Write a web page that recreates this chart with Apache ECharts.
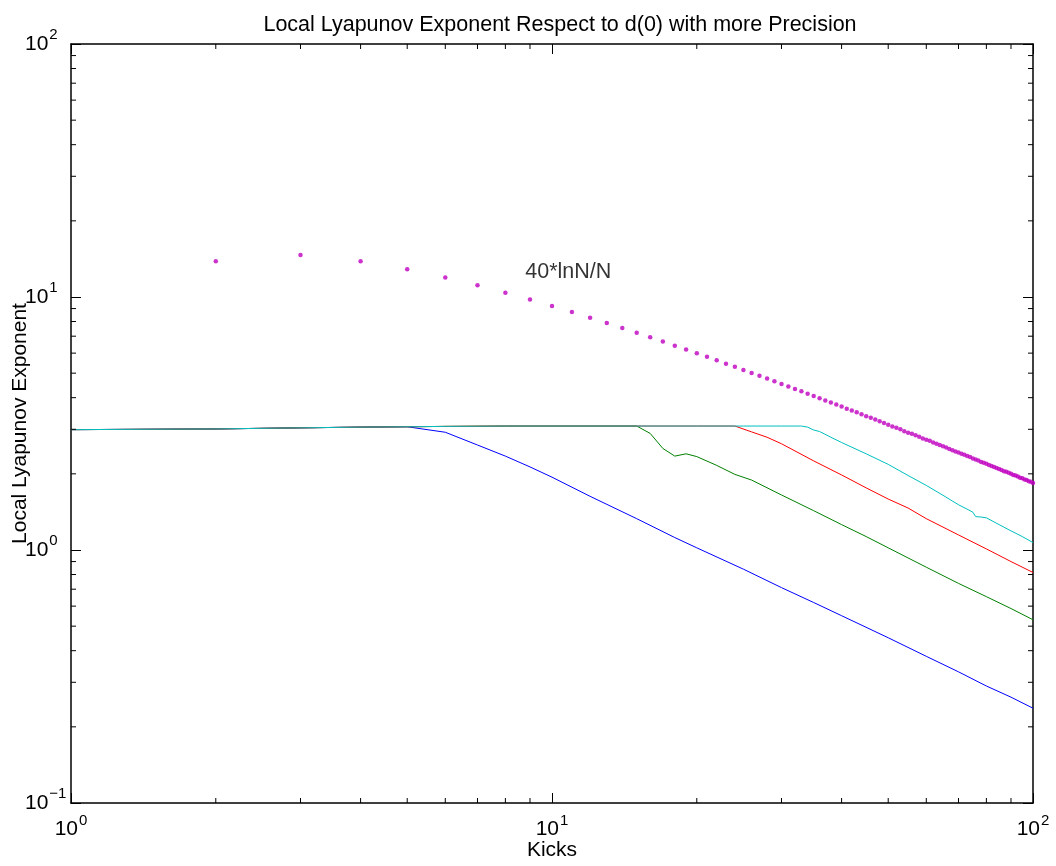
<!DOCTYPE html>
<html>
<head>
<meta charset="utf-8">
<script src="https://cdn.jsdelivr.net/npm/echarts@6/dist/echarts.min.js"></script>
<style>
  html, body { margin: 0; padding: 0; background: #fff; }
  #chart { width: 1056px; height: 866px; }
</style>
</head>
<body>
<div id="chart"></div>
<script>
// ---- text ----
const titleText = 'Local Lyapunov Exponent Respect to d(0) with more Precision';
const xName = 'Kicks';
const yName = 'Local Lyapunov Exponent';
const curveLabel = '40*lnN/N';

// ---- tick labels (decades, written as 10^power) ----
const xTickValues = [1, 10, 100];
const xTickPowers = ['0', '1', '2'];
const yTickValues = [0.1, 1, 10, 100];
const yTickPowers = ['\u22121', '0', '1', '2'];
const xMinorTicks = [2, 3, 4, 5, 6, 7, 8, 9, 20, 30, 40, 50, 60, 70, 80, 90];
const yMinorTicks = [0.2, 0.3, 0.4, 0.5, 0.6, 0.7, 0.8, 0.9, 2, 3, 4, 5, 6, 7, 8, 9, 20, 30, 40, 50, 60, 70, 80, 90];

// ---- local Lyapunov exponent curves ----
const blueN = [1, 2, 3, 4, 5, 6, 7, 8, 9, 10, 12, 15, 18, 20, 25, 30, 35, 40, 50, 60, 70, 80, 90, 100];
const blueV = [2.99, 3.01, 3.04, 3.06, 3.07, 2.92, 2.60, 2.35, 2.13, 1.94, 1.63, 1.33, 1.12, 1.02, 0.84, 0.71, 0.62, 0.55, 0.45, 0.38, 0.33, 0.29, 0.262, 0.237];

const greenN = [1, 2, 3, 4, 5, 6, 8, 10, 15, 16, 17, 18, 19, 20, 22, 24, 26, 30, 35, 40, 45, 50, 60, 70, 80, 90, 100];
const greenV = [2.99, 3.01, 3.04, 3.06, 3.07, 3.08, 3.09, 3.09, 3.09, 2.89, 2.52, 2.35, 2.40, 2.34, 2.16, 1.99, 1.89, 1.65, 1.43, 1.26, 1.13, 1.02, 0.855, 0.738, 0.654, 0.587, 0.53];

const redN = [1, 2, 3, 4, 5, 6, 8, 10, 15, 20, 24, 26, 28, 30, 35, 40, 45, 50, 55, 60, 70, 80, 90, 100];
const redV = [2.99, 3.01, 3.04, 3.06, 3.07, 3.08, 3.09, 3.09, 3.09, 3.09, 3.09, 2.93, 2.79, 2.63, 2.25, 1.98, 1.76, 1.59, 1.465, 1.33, 1.147, 1.01, 0.90, 0.815];

const cyanN = [1, 2, 3, 4, 5, 6, 8, 10, 15, 20, 25, 30, 33, 34, 35, 36, 38, 40, 45, 50, 55, 60, 65, 70, 74, 75, 76, 78, 80, 85, 90, 95, 100];
const cyanV = [2.99, 3.01, 3.04, 3.06, 3.07, 3.08, 3.09, 3.09, 3.09, 3.09, 3.09, 3.09, 3.09, 3.06, 2.98, 2.94, 2.79, 2.66, 2.40, 2.18, 1.97, 1.80, 1.645, 1.51, 1.43, 1.41, 1.355, 1.35, 1.34, 1.26, 1.19, 1.13, 1.07];

// ---- reference curve 40*lnN/N, N = 2..100 ----
const refN = [
  2, 3, 4, 5, 6, 7, 8, 9, 10,
  11, 12, 13, 14, 15, 16, 17, 18, 19, 20,
  21, 22, 23, 24, 25, 26, 27, 28, 29, 30,
  31, 32, 33, 34, 35, 36, 37, 38, 39, 40,
  41, 42, 43, 44, 45, 46, 47, 48, 49, 50,
  51, 52, 53, 54, 55, 56, 57, 58, 59, 60,
  61, 62, 63, 64, 65, 66, 67, 68, 69, 70,
  71, 72, 73, 74, 75, 76, 77, 78, 79, 80,
  81, 82, 83, 84, 85, 86, 87, 88, 89, 90,
  91, 92, 93, 94, 95, 96, 97, 98, 99, 100
];
const refV = [
  13.86, 14.65, 13.86, 12.88, 11.95, 11.12, 10.40, 9.77, 9.21,
  8.72, 8.28, 7.89, 7.54, 7.22, 6.93, 6.67, 6.42, 6.20, 5.99,
  5.80, 5.62, 5.45, 5.30, 5.15, 5.01, 4.88, 4.76, 4.64, 4.53,
  4.43, 4.33, 4.24, 4.15, 4.06, 3.98, 3.90, 3.83, 3.76, 3.69,
  3.62, 3.56, 3.50, 3.44, 3.38, 3.33, 3.28, 3.23, 3.18, 3.13,
  3.08, 3.04, 3.00, 2.95, 2.91, 2.88, 2.84, 2.80, 2.76, 2.73,
  2.70, 2.66, 2.63, 2.60, 2.57, 2.54, 2.51, 2.48, 2.45, 2.43,
  2.40, 2.38, 2.35, 2.33, 2.30, 2.28, 2.26, 2.23, 2.21, 2.19,
  2.17, 2.15, 2.13, 2.11, 2.09, 2.07, 2.05, 2.04, 2.02, 2.00,
  1.98, 1.97, 1.95, 1.93, 1.92, 1.90, 1.89, 1.87, 1.86, 1.84
];

// position of the curve annotation, in data units
const curveLabelAt = [8.8, 12.5];

// ---- axis ranges ----
const X_MIN = 1, X_MAX = 100;
const Y_MIN = 0.1, Y_MAX = 100;

const FONT = "'Liberation Sans', Arial, Helvetica, sans-serif";
const zip = (a, b) => a.map((v, i) => [v, b[i]]);

function powerLabel(values, powers) {
  return function (v) {
    const i = values.findIndex(t => Math.abs(Math.log10(t) - Math.log10(v)) < 1e-6);
    return i < 0 ? '' : '{b|10}{s|' + powers[i] + '}';
  };
}
const richPow = {
  b: { fontSize: 21, fontFamily: FONT, color: '#000' },
  s: { fontSize: 15, fontFamily: FONT, color: '#000', padding: [0, 0, 18, 1] }
};

const axisLineStyle = { show: true, lineStyle: { color: '#000', width: 1.5 } };
const majorTick = { show: true, inside: true, length: 10, lineStyle: { color: '#000', width: 1 } };

function lineSeries(name, n, v, color) {
  return {
    name, type: 'line', data: zip(n, v), symbol: 'none', smooth: false,
    lineStyle: { color, width: 1 }, itemStyle: { color }, silent: true
  };
}

const chart = echarts.init(document.getElementById('chart'), null, { renderer: 'canvas' });
chart.setOption({
  animation: false,
  backgroundColor: '#fff',
  title: {
    text: titleText,
    left: 555, top: 9,
    textAlign: 'center',
    textStyle: { fontSize: 21.5, fontWeight: 'normal', color: '#000', fontFamily: FONT }
  },
  grid: { left: 71, right: 23, top: 44, bottom: 63, containLabel: false, outerBoundsMode: 'none' },
  xAxis: [
    {
      type: 'log', logBase: 10, min: X_MIN, max: X_MAX, position: 'bottom',
      axisLine: axisLineStyle, axisTick: majorTick, splitLine: { show: false },
      axisLabel: {
        show: true, margin: 10, formatter: powerLabel(xTickValues, xTickPowers), rich: richPow,
        showMinLabel: true, showMaxLabel: true
      },
      name: xName, nameLocation: 'middle', nameGap: 37, nameMoveOverlap: false,
      nameTextStyle: { fontSize: 21, color: '#000', fontFamily: FONT, lineHeight: 21 }
    },
    {
      type: 'log', logBase: 10, min: X_MIN, max: X_MAX, position: 'top',
      axisLine: axisLineStyle, axisTick: majorTick, splitLine: { show: false },
      axisLabel: { show: false }
    }
  ],
  yAxis: [
    {
      type: 'log', logBase: 10, min: Y_MIN, max: Y_MAX, position: 'left',
      axisLine: axisLineStyle, axisTick: majorTick, splitLine: { show: false },
      axisLabel: {
        show: true, margin: 46, align: 'left', formatter: powerLabel(yTickValues, yTickPowers), rich: richPow,
        showMinLabel: true, showMaxLabel: true
      },
      name: yName, nameLocation: 'middle', nameGap: 40, nameRotate: 90, nameMoveOverlap: false,
      nameTextStyle: { fontSize: 21, color: '#000', fontFamily: FONT, lineHeight: 21 }
    },
    {
      type: 'log', logBase: 10, min: Y_MIN, max: Y_MAX, position: 'right',
      axisLine: axisLineStyle, axisTick: majorTick, splitLine: { show: false },
      axisLabel: { show: false }
    }
  ],
  series: [
    lineSeries('blue', blueN, blueV, '#0000ff'),
    lineSeries('green', greenN, greenV, '#008000'),
    lineSeries('red', redN, redV, '#ff0000'),
    lineSeries('cyan', cyanN, cyanV, '#00bfbf'),
    {
      name: '40*lnN/N', type: 'scatter', data: zip(refN, refV),
      symbol: 'circle', symbolSize: 4.5, itemStyle: { color: '#bf00bf' }, silent: true
    },
    {
      // text annotation next to the reference curve
      type: 'scatter', data: [curveLabelAt], symbolSize: 0, silent: true,
      label: {
        show: true, position: 'right', distance: 0, formatter: curveLabel,
        fontSize: 21.5, color: '#000', fontFamily: FONT
      }
    },
    {
      // minor decade ticks on bottom and top edges
      type: 'custom', silent: true, z: 5,
      data: xMinorTicks.map(v => [v, 1]),
      renderItem: function (params, api) {
        const v = api.value(0);
        const b = api.coord([v, Y_MIN]);
        const t = api.coord([v, Y_MAX]);
        const st = { stroke: '#000', lineWidth: 1 };
        return {
          type: 'group', children: [
            { type: 'line', shape: { x1: b[0], y1: b[1], x2: b[0], y2: b[1] - 5 }, style: st },
            { type: 'line', shape: { x1: t[0], y1: t[1], x2: t[0], y2: t[1] + 5 }, style: st }
          ]
        };
      }
    },
    {
      // minor decade ticks on left and right edges
      type: 'custom', silent: true, z: 5,
      data: yMinorTicks.map(v => [1, v]),
      renderItem: function (params, api) {
        const v = api.value(1);
        const l = api.coord([X_MIN, v]);
        const r = api.coord([X_MAX, v]);
        const st = { stroke: '#000', lineWidth: 1 };
        return {
          type: 'group', children: [
            { type: 'line', shape: { x1: l[0], y1: l[1], x2: l[0] + 5, y2: l[1] }, style: st },
            { type: 'line', shape: { x1: r[0], y1: r[1], x2: r[0] - 5, y2: r[1] }, style: st }
          ]
        };
      }
    }
  ]
});
</script>
</body>
</html>
